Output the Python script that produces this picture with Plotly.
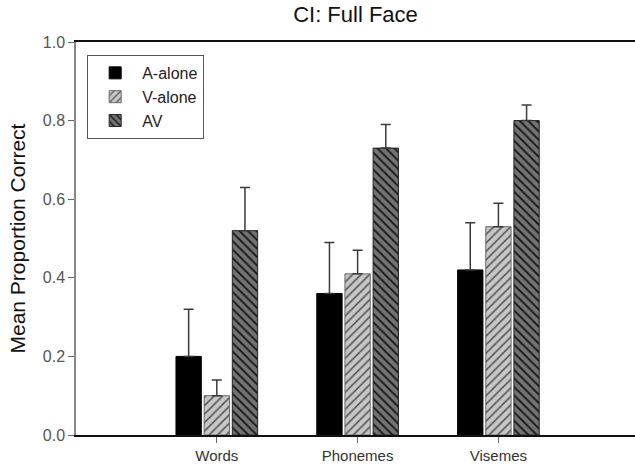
import plotly.graph_objects as go

categories = ["Words", "Phonemes", "Visemes"]
series_names = ["A-alone", "V-alone", "AV"]
a_alone = [0.20, 0.36, 0.42]
v_alone = [0.10, 0.41, 0.53]
av = [0.52, 0.73, 0.80]
a_alone_err = [0.12, 0.13, 0.12]
v_alone_err = [0.04, 0.06, 0.06]
av_err = [0.11, 0.06, 0.04]
y_ticks = [0.0, 0.2, 0.4, 0.6, 0.8, 1.0]

FONT = "Liberation Sans, Arial, sans-serif"

styles = [
    dict(color="#000000", line="#000000", pattern=None),
    dict(color="#c4c4c4", line="#6a6a6a",
         pattern=dict(shape="/", bgcolor="#c6c6c6", fgcolor="#404040", size=6, solidity=0.22)),
    dict(color="#707070", line="#222222",
         pattern=dict(shape="\\", bgcolor="#727272", fgcolor="#111111", size=6, solidity=0.28)),
]

fig = go.Figure()
for name, vals, errs, st in zip(series_names, [a_alone, v_alone, av],
                                 [a_alone_err, v_alone_err, av_err], styles):
    marker = dict(color=st["color"], line=dict(color=st["line"], width=1))
    if st["pattern"] is not None:
        marker["pattern"] = st["pattern"]
    fig.add_trace(go.Bar(
        x=categories, y=vals, name=name, marker=marker,
        error_y=dict(type="data", symmetric=False, array=errs,
                     arrayminus=[0] * len(errs),
                     color="#3a3a3a", thickness=1.5, width=5),
    ))

fig.update_layout(
    template="none",
    width=635, height=468, autosize=False,
    margin=dict(l=76, r=0, t=42, b=33, autoexpand=False),
    paper_bgcolor="white", plot_bgcolor="white",
    barmode="group", bargap=0.40, bargroupgap=0.1,
    font=dict(family=FONT, color="#333333", size=15),
    title=dict(text="CI: Full Face", x=0.5, xref="paper", xanchor="center",
               y=1 - 14 / 468, yanchor="middle", yref="container",
               font=dict(family=FONT, size=22, color="#111111")),
    showlegend=True,
    legend=dict(x=0.02, y=0.967, xanchor="left", yanchor="top",
                bgcolor="white", bordercolor="#555555", borderwidth=1,
                font=dict(family=FONT, size=16, color="#222222"),
                itemwidth=44, tracegroupgap=0),
    xaxis=dict(type="category", range=[-1, 2.97], showgrid=False, automargin=False,
               showline=True, linecolor="#111111", linewidth=1.5, mirror=True,
               ticks="outside", ticklen=6, tickcolor="#666666", tickwidth=1,
               tickfont=dict(family=FONT, size=15, color="#333333"), zeroline=False),
    yaxis=dict(range=[0, 1.0], tickvals=y_ticks, tickformat=".1f", showgrid=False,
               automargin=False,
               showline=True, mirror=False, linecolor="#888888", linewidth=1.5,
               ticks="outside", ticklen=6, tickcolor="#666666", tickwidth=1,
               tickfont=dict(family=FONT, size=16, color="#555555"), zeroline=False),
    annotations=[dict(text="Mean Proportion Correct", textangle=-90,
                      xref="paper", yref="paper", x=-76 / 559 + 17 / 559, y=0.5,
                      xanchor="center", yanchor="middle", showarrow=False,
                      font=dict(family=FONT, size=21, color="#111111"))],
)

fig.write_html("out.html", config={"displayModeBar": False})
